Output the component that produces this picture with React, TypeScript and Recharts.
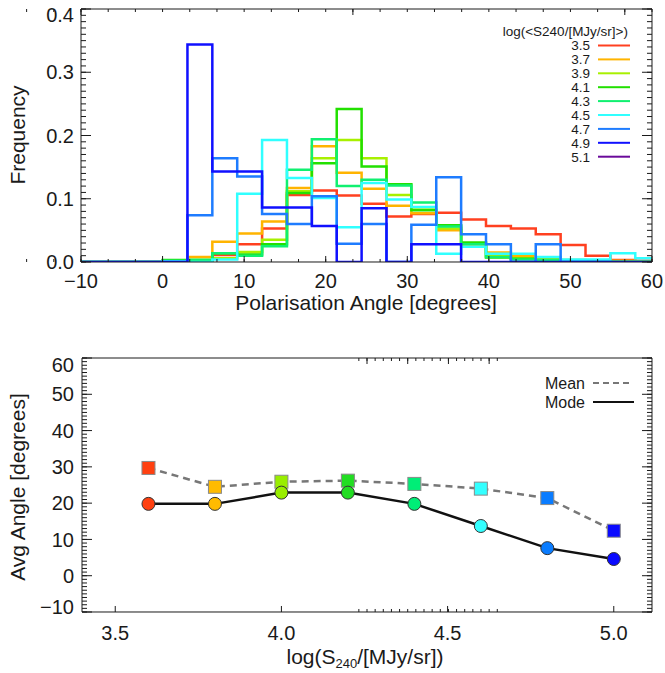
import React from 'react'
import { LineChart, Line, XAxis, YAxis } from 'recharts'

const FONT = '"Liberation Sans", Arial, Helvetica, sans-serif'
const INK = '#1a1a1a'
const THIN = 0.001 // axes need a non-zero size to be drawn

// histogram bin edges in degrees; the first entry is the empty stretch from -10
const binEdges = [-10, 0, 3.05, 6.1, 9.15, 12.2, 15.25, 18.3, 21.35, 24.4, 27.45, 30.5, 33.55, 36.6, 39.65, 42.7, 45.75, 48.8, 51.85, 54.9, 57.95, 60]

// frequency per bin (bins start at 0, 3.05, 6.1 ...)
const freq35 = [0.001, 0.002, 0.011, 0.028, 0.053, 0.106, 0.113, 0.105, 0.092, 0.072, 0.076, 0.078, 0.067, 0.057, 0.053, 0.044, 0.027, 0.010, 0.003, 0.002]
const freq37 = [0.001, 0.008, 0.032, 0.045, 0.064, 0.117, 0.183, 0.141, 0.116, 0.089, 0.077, 0.050, 0.027, 0.015, 0.010, 0.005, 0.003, 0.002, 0.002, 0.001]
const freq39 = [0.001, 0.003, 0.006, 0.016, 0.035, 0.112, 0.164, 0.193, 0.164, 0.106, 0.083, 0.053, 0.029, 0.009, 0.006, 0.004, 0.002, 0.001, 0.001, 0.001]
const freq41 = [0.003, 0.003, 0.014, 0.012, 0.028, 0.109, 0.156, 0.242, 0.151, 0.123, 0.082, 0.058, 0.031, 0.007, 0.005, 0.003, 0.001, 0.001, 0, 0]
const freq43 = [0.002, 0.003, 0.014, 0.010, 0.025, 0.146, 0.194, 0.120, 0.130, 0.121, 0.094, 0.056, 0.028, 0.008, 0.004, 0.003, 0.001, 0, 0, 0]
const freq45 = [0.001, 0, 0.004, 0.108, 0.193, 0.133, 0.101, 0.055, 0.125, 0.099, 0.087, 0.013, 0.024, 0.013, 0.013, 0.008, 0.004, 0.004, 0.014, 0.006]
const freq47 = [0, 0.074, 0.164, 0.135, 0.076, 0.060, 0.104, 0.029, 0.060, 0, 0.059, 0.134, 0.044, 0.028, 0, 0.028, 0, 0, 0, 0]
const freq49 = [0, 0.344, 0.143, 0.143, 0.086, 0.086, 0.057, 0, 0.085, 0, 0.028, 0.028, 0, 0, 0, 0, 0, 0, 0, 0]

const histLabels = ['3.5', '3.7', '3.9', '4.1', '4.3', '4.5', '4.7', '4.9', '5.1']
const histColors = ['#ff4020', '#ffb400', '#a8f000', '#22e000', '#10f070', '#30ffff', '#1e7cff', '#1010ff', '#6a0a9a']
const histValues = [freq35, freq37, freq39, freq41, freq43, freq45, freq47, freq49]

// lower panel
const fluxBins = [3.6, 3.8, 4.0, 4.2, 4.4, 4.6, 4.8, 5.0]
const meanAngle = [29.7, 24.5, 25.9, 26.2, 25.3, 24.0, 21.4, 12.4]
const modeAngle = [19.8, 19.8, 22.9, 22.9, 19.8, 13.7, 7.6, 4.6]
const pointColors = ['#ff4010', '#ffbb00', '#99ee00', '#22dd22', '#00ee77', '#33ffff', '#0a7cff', '#0a0aff']

const angleTicks = [-10, 0, 10, 20, 30, 40, 50, 60]
const freqTicks = [0, 0.1, 0.2, 0.3, 0.4]
const fluxTicks = [3.5, 4.0, 4.5, 5.0]
const avgTicks = [-10, 0, 10, 20, 30, 40, 50, 60]

const steps = (from: number, to: number, step: number) =>
  Array.from({ length: Math.round((to - from) / step) + 1 }, (_, i) => +(from + i * step).toFixed(4))

const histRows = binEdges.map((x, i) => {
  const row: Record<string, number> = { x }
  histValues.forEach((vals, s) => {
    row['h' + s] = i === 0 ? 0 : vals[Math.min(i - 1, vals.length - 1)]
  })
  return row
})

const avgRows = fluxBins.map((f, i) => ({ f, mean: meanAngle[i], mode: modeAngle[i] }))

const blank = () => ''
const minus = (s: string) => s.replace('-', '\u2212')

function XLabel(props: any) {
  const { x, y, payload, fmt } = props
  return (
    <text x={x} y={y} dy="0.71em" textAnchor="middle" fontSize={20} fontFamily={FONT} fill={INK}>
      {fmt(payload.value)}
    </text>
  )
}

function YLabel(props: any) {
  const { x, y, payload, fmt, shift } = props
  const d = shift[String(payload.value)] || 0
  return (
    <text x={x} y={y + d} dy="0.36em" textAnchor="end" fontSize={20} fontFamily={FONT} fill={INK}>
      {fmt(payload.value)}
    </text>
  )
}

// the inward tick marks on all four sides, IDL style
function frameAxes(o: {
  xDomain: number[]
  yDomain: number[]
  xMajor: number[]
  xMinor: number[]
  yMajor: number[]
  yMinor: number[]
  xLen: [number, number]
  yLen: [number, number]
}) {
  const common = { allowDataOverflow: true, interval: 0 as const, tickFormatter: blank, stroke: INK, type: 'number' as const }
  return [
    <XAxis key="xbm" xAxisId="xbm" orientation="bottom" domain={o.xDomain} ticks={o.xMinor} tickSize={-o.xLen[1]} height={THIN} axisLine={false} {...common} />,
    <XAxis key="xtm" xAxisId="xtm" orientation="top" domain={o.xDomain} ticks={o.xMinor} tickSize={-o.xLen[1]} height={THIN} axisLine={false} {...common} />,
    <XAxis key="xtM" xAxisId="xtM" orientation="top" domain={o.xDomain} ticks={o.xMajor} tickSize={-o.xLen[0]} height={THIN} {...common} />,
    <YAxis key="ylm" yAxisId="ylm" orientation="left" domain={o.yDomain} ticks={o.yMinor} tickSize={-o.yLen[1]} width={THIN} axisLine={false} {...common} />,
    <YAxis key="yrm" yAxisId="yrm" orientation="right" domain={o.yDomain} ticks={o.yMinor} tickSize={-o.yLen[1]} width={THIN} axisLine={false} {...common} />,
    <YAxis key="yrM" yAxisId="yrM" orientation="right" domain={o.yDomain} ticks={o.yMajor} tickSize={-o.yLen[0]} width={THIN} {...common} />,
  ]
}

function SquareDot(props: any) {
  const { cx, cy, index } = props
  if (cx == null || cy == null) return null
  return <rect x={cx - 6.5} y={cy - 6.5} width={13} height={13} fill={pointColors[index]} stroke="#8a8a8a" strokeWidth={1} />
}

function CircleDot(props: any) {
  const { cx, cy, index } = props
  if (cx == null || cy == null) return null
  return <circle cx={cx} cy={cy} r={6.5} fill={pointColors[index]} stroke="#333" strokeWidth={1} />
}

export default function App() {
  const txt = { fontFamily: FONT, fill: INK }
  return (
    <div style={{ position: 'absolute', left: 0, top: 0, width: 665, height: 673, background: '#fff', overflow: 'hidden' }}>
      <div style={{ position: 'absolute', left: 0, top: 0 }}>
        <LineChart width={665} height={300} data={histRows} margin={{ top: 9, right: 13, bottom: 38, left: 81 }}>
          {frameAxes({
            xDomain: [-10, 60],
            yDomain: [0, 0.4],
            xMajor: angleTicks,
            xMinor: steps(-10, 60, 1),
            yMajor: freqTicks,
            yMinor: steps(0, 0.4, 0.01),
            xLen: [6, 3],
            yLen: [10, 5],
          })}
          <XAxis
            xAxisId="x"
            type="number"
            dataKey="x"
            domain={[-10, 60]}
            allowDataOverflow
            ticks={angleTicks}
            interval={0}
            tickSize={-6}
            tickMargin={18}
            height={THIN}
            stroke={INK}
            tick={(p: any) => <XLabel {...p} fmt={(v: number) => minus(String(v))} />}
          />
          <YAxis
            yAxisId="y"
            type="number"
            domain={[0, 0.4]}
            allowDataOverflow
            ticks={freqTicks}
            interval={0}
            tickSize={-10}
            tickMargin={17}
            width={THIN}
            stroke={INK}
            tick={(p: any) => <YLabel {...p} fmt={(v: number) => v.toFixed(1)} shift={{ '0.4': 6 }} />}
          />
          {histValues.map((_, s) => (
            <Line
              key={s}
              xAxisId="x"
              yAxisId="y"
              type="stepAfter"
              dataKey={'h' + s}
              stroke={histColors[s]}
              strokeWidth={2.5}
              dot={false}
              isAnimationActive={false}
            />
          ))}
        </LineChart>
      </div>

      <div style={{ position: 'absolute', left: 0, top: 340 }}>
        <LineChart width={665} height={333} data={avgRows} margin={{ top: 18, right: 13, bottom: 61, left: 82 }}>
          {frameAxes({
            xDomain: [3.4, 5.115],
            yDomain: [-10, 60],
            xMajor: fluxTicks,
            xMinor: steps(3.4, 5.1, 0.1),
            yMajor: avgTicks,
            yMinor: steps(-10, 60, 1),
            xLen: [6, 3],
            yLen: [10, 5],
          })}
          <XAxis
            xAxisId="x"
            type="number"
            dataKey="f"
            domain={[3.4, 5.115]}
            allowDataOverflow
            ticks={fluxTicks}
            interval={0}
            tickSize={-6}
            tickMargin={20}
            height={THIN}
            stroke={INK}
            tick={(p: any) => <XLabel {...p} fmt={(v: number) => v.toFixed(1)} />}
          />
          <YAxis
            yAxisId="y"
            type="number"
            domain={[-10, 60]}
            allowDataOverflow
            ticks={avgTicks}
            interval={0}
            tickSize={-10}
            tickMargin={18}
            width={THIN}
            stroke={INK}
            tick={(p: any) => <YLabel {...p} fmt={(v: number) => minus(String(v))} shift={{ '60': 7, '-10': -5 }} />}
          />
          <Line
            xAxisId="x"
            yAxisId="y"
            dataKey="mean"
            type="linear"
            stroke="#777"
            strokeWidth={2.5}
            strokeDasharray="7 5"
            dot={<SquareDot />}
            isAnimationActive={false}
          />
          <Line
            xAxisId="x"
            yAxisId="y"
            dataKey="mode"
            type="linear"
            stroke="#111"
            strokeWidth={2.5}
            dot={<CircleDot />}
            isAnimationActive={false}
          />
        </LineChart>
      </div>

      <svg width={665} height={673} style={{ position: 'absolute', left: 0, top: 0, pointerEvents: 'none' }}>
        {/* top panel titles */}
        <text x={366} y={310} textAnchor="middle" fontSize={21} {...txt}>
          Polarisation Angle [degrees]
        </text>
        <text transform="translate(25,135) rotate(-90)" textAnchor="middle" fontSize={21} {...txt}>
          Frequency
        </text>
        <text x={628} y={35.5} textAnchor="end" fontSize={13.5} {...txt}>
          {'log(<S240/[MJy/sr]>)'}
        </text>
        {histLabels.map((lab, i) => (
          <g key={lab}>
            <text x={590} y={45.5 + i * 13.9} dy="0.36em" textAnchor="end" fontSize={13.5} {...txt}>
              {lab}
            </text>
            <line x1={598} x2={630} y1={45.5 + i * 13.9} y2={45.5 + i * 13.9} stroke={histColors[i]} strokeWidth={2} />
          </g>
        ))}

        {/* bottom panel titles */}
        <text x={365} y={664} textAnchor="middle" fontSize={21} {...txt}>
          log(S<tspan fontSize={13} dy={4}>240</tspan>
          <tspan dy={-4}>/[MJy/sr])</tspan>
        </text>
        <text transform="translate(25,487) rotate(-90)" textAnchor="middle" fontSize={21} {...txt}>
          Avg Angle [degrees]
        </text>
        <text x={585} y={383} dy="0.36em" textAnchor="end" fontSize={16} {...txt}>
          Mean
        </text>
        <line x1={593} x2={632} y1={383} y2={383} stroke="#777" strokeWidth={2} strokeDasharray="6 4" />
        <text x={585} y={402} dy="0.36em" textAnchor="end" fontSize={16} {...txt}>
          Mode
        </text>
        <line x1={593} x2={634} y1={402} y2={402} stroke="#111" strokeWidth={2} />
      </svg>
    </div>
  )
}
